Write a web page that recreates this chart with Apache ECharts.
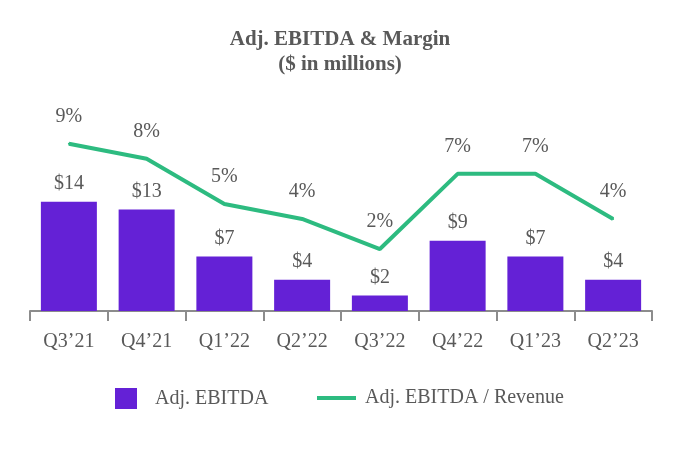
<!DOCTYPE html>
<html>
<head>
<meta charset="utf-8">
<script src="https://cdn.jsdelivr.net/npm/echarts@6/dist/echarts.min.js"></script>
<style>html,body{margin:0;padding:0;background:#fff}#c{width:680px;height:450px}</style>
</head>
<body>
<div id="c"></div>
<script>
const categories = ['Q3\u201921','Q4\u201921','Q1\u201922','Q2\u201922','Q3\u201922','Q4\u201922','Q1\u201923','Q2\u201923'];
const ebitda = [14, 13, 7, 4, 2, 9, 7, 4];
const margin = [9, 8, 5, 4, 2, 7, 7, 4];

const FONT = '"Liberation Serif", "Times New Roman", serif';
const TXT = '#595959';
const PURPLE = '#6421d6';
const GREEN = '#2dbb80';

const chart = echarts.init(document.getElementById('c'), null, {renderer: 'canvas'});
chart.setOption({
  animation: false,
  backgroundColor: '#fff',
  title: {
    text: 'Adj. EBITDA & Margin\n($ in millions)',
    left: 'center',
    top: 22,
    textStyle: {fontFamily: FONT, fontSize: 21, fontWeight: 'bold', color: TXT, lineHeight: 25}
  },
  legend: [
    {
      data: [{name: 'Adj. EBITDA', icon: 'rect'}],
      left: 110, top: 383,
      itemWidth: 22, itemHeight: 21,
      textStyle: {fontFamily: FONT, fontSize: 20, color: TXT, padding: [0, 0, 0, 13]}
    },
    {
      data: [{name: 'Adj. EBITDA / Revenue', icon: 'rect'}],
      left: 312, top: 383,
      itemWidth: 39, itemHeight: 4,
      textStyle: {fontFamily: FONT, fontSize: 20, color: TXT, padding: [0, 0, 0, 4]}
    }
  ],
  grid: {left: 30, right: 28, top: 77, bottom: 139},
  xAxis: {
    type: 'category',
    data: categories,
    axisLine: {lineStyle: {color: '#8c8c8c', width: 2}},
    axisTick: {show: true, length: 10, lineStyle: {color: '#8c8c8c', width: 2}},
    axisLabel: {fontFamily: FONT, fontSize: 20, color: TXT, margin: 21}
  },
  yAxis: [
    {type: 'value', min: 0, max: 30, show: false, splitLine: {show: false}},
    {type: 'value', min: -2.12, max: 13.44, show: false, splitLine: {show: false}}
  ],
  series: [
    {
      name: 'Adj. EBITDA',
      type: 'bar',
      data: ebitda,
      barWidth: 56,
      itemStyle: {color: PURPLE},
      label: {
        show: true, position: 'top', distance: 8,
        fontFamily: FONT, fontSize: 20, color: TXT,
        formatter: p => '$' + p.value
      }
    },
    {
      name: 'Adj. EBITDA / Revenue',
      type: 'line',
      yAxisIndex: 1,
      data: margin,
      symbol: 'circle',
      symbolSize: 2,
      showSymbol: true,
      itemStyle: {color: GREEN},
      lineStyle: {color: GREEN, width: 4},
      label: {
        show: true, position: 'top', distance: 16,
        fontFamily: FONT, fontSize: 20, color: TXT,
        formatter: p => p.value + '%'
      }
    }
  ]
});
</script>
</body>
</html>
